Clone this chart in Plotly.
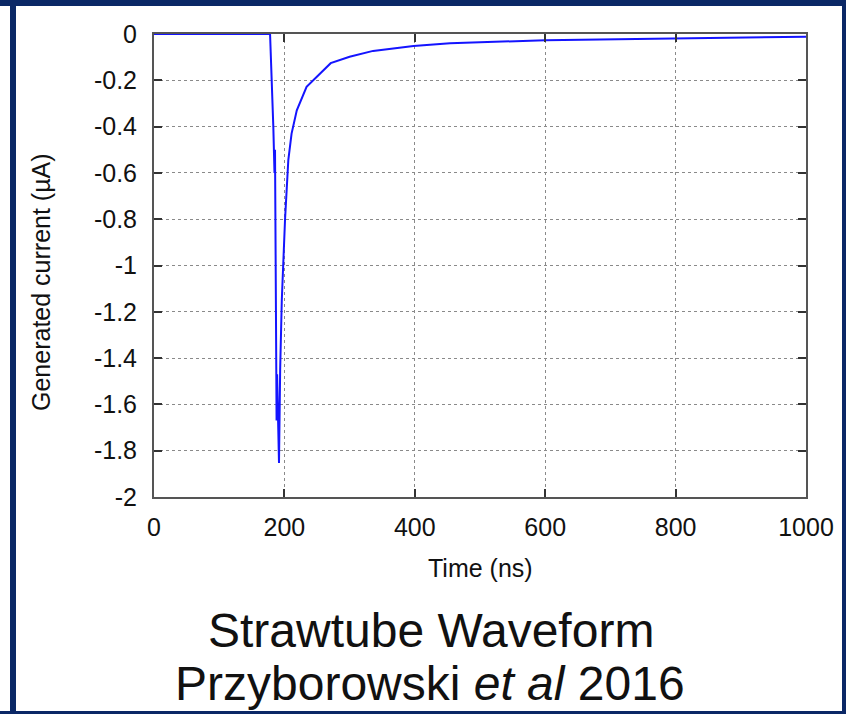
import plotly.graph_objects as go

# Data
time_ns = [0, 100, 176, 178, 183, 184, 184.8, 185.6, 188.0, 188.8, 189.4, 191.7,
           193.5, 196, 201, 206, 211, 219, 234, 250, 271, 300, 336, 398, 454,
           600, 800, 1000]
current_uA = [0, 0, 0, 0, -0.40, -0.51, -0.60, -0.50, -1.67, -1.47, -1.55, -1.853,
              -1.45, -1.15, -0.80, -0.545, -0.43, -0.33, -0.228, -0.184, -0.126,
              -0.098, -0.073, -0.052, -0.040, -0.027, -0.019, -0.012]

x_ticks = [0, 200, 400, 600, 800, 1000]
y_ticks = [0, -0.2, -0.4, -0.6, -0.8, -1, -1.2, -1.4, -1.6, -1.8, -2]
y_tick_text = ["0", "-0.2", "-0.4", "-0.6", "-0.8", "-1", "-1.2", "-1.4", "-1.6", "-1.8", "-2"]

W, H = 846, 714
L, R, T, B = 154, 806, 34, 497

def px(p):
    return (p - L) / (R - L)

def py(p):
    return (B - p) / (B - T)

FONT = "Liberation Sans, Arial, sans-serif"
NAVY = "#0b2866"

fig = go.Figure()
fig.add_trace(go.Scatter(x=time_ns, y=current_uA, mode="lines",
                         line=dict(color="#1414ff", width=2), showlegend=False))

axis_common = dict(showline=True, linecolor="#555555", linewidth=2, mirror="ticks",
                   ticks="inside", ticklen=8, tickwidth=2, tickcolor="#333333",
                   showgrid=True, gridcolor="#8a8a8a", gridwidth=1, griddash="dot",
                   zeroline=False, tickfont=dict(family=FONT, size=25, color="#111111"))

fig.update_xaxes(range=[0, 1000], tickvals=x_ticks, ticktext=[str(v) for v in x_ticks],
                 ticklabelstandoff=7, **axis_common)
fig.update_yaxes(range=[-2, 0], tickvals=y_ticks, ticktext=y_tick_text,
                 ticklabelstandoff=10, **axis_common)

annotations = [
    dict(text="Time (ns)", x=px(480), y=py(568), xref="paper", yref="paper",
         showarrow=False, font=dict(family=FONT, size=25, color="#111111"),
         xanchor="center", yanchor="middle"),
    dict(text="Generated current (µA)", x=px(41), y=py(282), xref="paper", yref="paper",
         showarrow=False, textangle=-90, font=dict(family=FONT, size=25, color="#111111"),
         xanchor="center", yanchor="middle"),
    dict(text="Strawtube Waveform", x=px(431), y=py(630), xref="paper", yref="paper",
         showarrow=False, font=dict(family=FONT, size=48, color="#111111"),
         xanchor="center", yanchor="middle"),
    dict(text="Przyborowski <i>et al</i> 2016", x=px(430), y=py(683), xref="paper", yref="paper",
         showarrow=False, font=dict(family=FONT, size=48, color="#111111"),
         xanchor="center", yanchor="middle"),
]

shapes = [
    dict(type="rect", xref="paper", yref="paper", x0=px(0), x1=px(W), y0=py(0), y1=py(6),
         fillcolor=NAVY, line=dict(width=0), layer="above"),
    dict(type="rect", xref="paper", yref="paper", x0=px(10), x1=px(16), y0=py(0), y1=py(H),
         fillcolor=NAVY, line=dict(width=0), layer="above"),
    dict(type="rect", xref="paper", yref="paper", x0=px(842), x1=px(W), y0=py(0), y1=py(H),
         fillcolor=NAVY, line=dict(width=0), layer="above"),
    dict(type="rect", xref="paper", yref="paper", x0=px(0), x1=px(W), y0=py(711), y1=py(H),
         fillcolor=NAVY, line=dict(width=0), layer="above"),
]

fig.update_layout(width=W, height=H, margin=dict(l=L, r=W - R, t=T, b=H - B),
                  paper_bgcolor="white", plot_bgcolor="white",
                  annotations=annotations, shapes=shapes)

fig.write_html("out.html")
